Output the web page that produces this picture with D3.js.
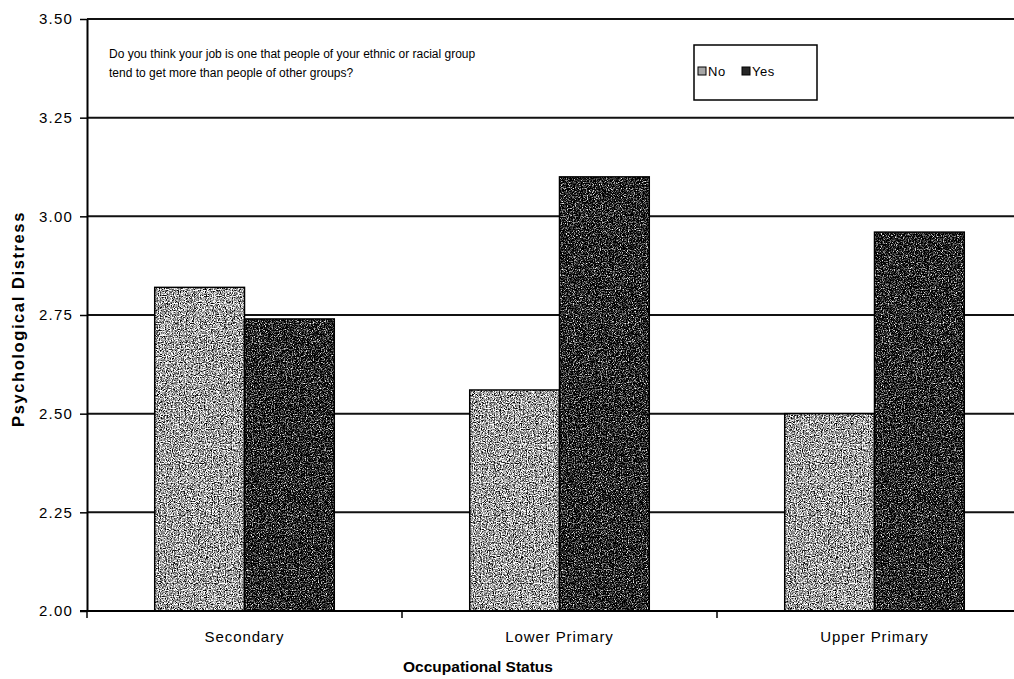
<!DOCTYPE html>
<html>
<head>
<meta charset="utf-8">
<script src="https://cdn.jsdelivr.net/npm/d3@7"></script>
<style>
  body { margin: 0; background: #fff; }
  svg { display: block; font-family: "Liberation Sans", Arial, sans-serif; }
</style>
</head>
<body>
<div id="chart"></div>
<script>
// ==== Data ====
const categories = ["Secondary", "Lower Primary", "Upper Primary"];
const seriesNames = ["No", "Yes"];
const noValues = [2.82, 2.56, 2.50];
const yesValues = [2.74, 3.10, 2.96];
const yTicks = [2.00, 2.25, 2.50, 2.75, 3.00, 3.25, 3.50];
const questionLines = [
  "Do you think your job is one that people of your ethnic or racial group",
  "tend to get more than people of other groups?"
];

const W = 1014, H = 679;
const margin = { top: 19, left: 87, bottom: 68 };
const plotRight = 1032; // plot area runs past the picture edge

const svg = d3.select("#chart").append("svg")
  .attr("width", W).attr("height", H);

// ==== speckle textures ====
const defs = svg.append("defs");
function speckle(id, seed, slope, intercept) {
  const f = defs.append("filter").attr("id", id)
    .attr("x", 0).attr("y", 0).attr("width", 1).attr("height", 1)
    .attr("color-interpolation-filters", "sRGB");
  f.append("feTurbulence").attr("type", "fractalNoise")
    .attr("baseFrequency", 0.85).attr("numOctaves", 2).attr("seed", seed).attr("result", "n");
  f.append("feColorMatrix").attr("in", "n").attr("type", "matrix")
    .attr("values", "0.33 0.33 0.33 0 0  0.33 0.33 0.33 0 0  0.33 0.33 0.33 0 0  0 0 0 0 1")
    .attr("result", "g");
  const ct = f.append("feComponentTransfer").attr("in", "g").attr("result", "t");
  ["feFuncR", "feFuncG", "feFuncB"].forEach(k =>
    ct.append(k).attr("type", "linear").attr("slope", slope).attr("intercept", intercept));
  f.append("feComposite").attr("in", "t").attr("in2", "SourceGraphic").attr("operator", "in");
}
speckle("tex-no", 3, 5, -1.85);
speckle("tex-yes", 7, 5, -2.35);

// ==== Scales ====
const x0 = d3.scaleBand().domain(categories).range([margin.left, plotRight])
  .paddingInner(0.43).paddingOuter(0.215);
const x1 = d3.scaleBand().domain(seriesNames).range([0, x0.bandwidth()]);
const y = d3.scaleLinear().domain([2, 3.5]).range([H - margin.bottom, margin.top]);
const color = d3.scaleOrdinal().domain(seriesNames).range(["#a6a6a6", "#262626"]);
const tex = { No: "url(#tex-no)", Yes: "url(#tex-yes)" };

// ==== Gridlines ====
svg.append("g")
  .selectAll("line").data(yTicks.slice(1)).join("line")
  .attr("x1", margin.left).attr("x2", W)
  .attr("y1", d => y(d)).attr("y2", d => y(d))
  .attr("stroke", "#111").attr("stroke-width", 2);

// ==== Bars ====
const rows = categories.map((c, i) => ({ cat: c, No: noValues[i], Yes: yesValues[i] }));
const groups = svg.append("g").selectAll("g").data(rows).join("g")
  .attr("transform", d => `translate(${x0(d.cat)},0)`);
groups.selectAll("rect.fill")
  .data(d => seriesNames.map(s => ({ s, v: d[s] })))
  .join("rect").attr("class", "fill")
  .attr("x", d => x1(d.s))
  .attr("y", d => y(d.v))
  .attr("width", x1.bandwidth())
  .attr("height", d => y(2) - y(d.v))
  .attr("fill", d => color(d.s))
  .attr("filter", d => tex[d.s]);
groups.selectAll("rect.outline")
  .data(d => seriesNames.map(s => ({ s, v: d[s] })))
  .join("rect").attr("class", "outline")
  .attr("x", d => x1(d.s))
  .attr("y", d => y(d.v))
  .attr("width", x1.bandwidth())
  .attr("height", d => y(2) - y(d.v))
  .attr("fill", "none").attr("stroke", "#000").attr("stroke-width", 1.5);

// ==== Axes ====
const yAxis = svg.append("g")
  .attr("transform", `translate(${margin.left},0)`)
  .call(d3.axisLeft(y).tickValues(yTicks).tickFormat(d3.format(".2f")).tickSize(7).tickSizeOuter(0));
yAxis.select(".domain").attr("stroke", "#000").attr("stroke-width", 2);
yAxis.selectAll(".tick line").attr("stroke", "#000").attr("stroke-width", 1.5);
yAxis.selectAll("text").attr("x", -14).attr("font-size", 15).attr("fill", "#000")
  .attr("letter-spacing", 1.2)
  .attr("font-family", "'Liberation Sans', Arial, sans-serif");

const xAxisG = svg.append("g").attr("transform", `translate(0,${y(2)})`);
xAxisG.append("line").attr("x1", margin.left - 7).attr("x2", W)
  .attr("stroke", "#000").attr("stroke-width", 2);
const bounds = [margin.left, margin.left + (plotRight - margin.left) / 3, margin.left + 2 * (plotRight - margin.left) / 3];
xAxisG.selectAll("line.tk").data(bounds).join("line").attr("class", "tk")
  .attr("x1", d => d).attr("x2", d => d).attr("y1", 0).attr("y2", 7)
  .attr("stroke", "#000").attr("stroke-width", 1.5);
xAxisG.selectAll("text").data(categories).join("text")
  .attr("x", d => x0(d) + x0.bandwidth() / 2)
  .attr("y", 31)
  .attr("text-anchor", "middle").attr("font-size", 15).attr("letter-spacing", 0.9)
  .text(d => d);

// ==== Axis titles ====
svg.append("text")
  .attr("transform", `translate(24,${(y(2) + y(3.5)) / 2 + 4}) rotate(-90)`)
  .attr("text-anchor", "middle").attr("font-size", 16.5).attr("font-weight", "bold")
  .attr("letter-spacing", 1.6)
  .text("Psychological Distress");
svg.append("text")
  .attr("x", 478).attr("y", 672)
  .attr("text-anchor", "middle").attr("font-size", 15.5).attr("font-weight", "bold")
  .text("Occupational Status");

// ==== Question text ====
svg.append("g").selectAll("text").data(questionLines).join("text")
  .attr("x", 109).attr("y", (d, i) => 58 + i * 19)
  .attr("font-size", 12).text(d => d);

// ==== Legend ====
const lg = svg.append("g").attr("transform", "translate(694,45)");
lg.append("rect").attr("width", 123).attr("height", 55)
  .attr("fill", "#fff").attr("stroke", "#000").attr("stroke-width", 1.5);
const li = lg.selectAll("g.it").data(seriesNames).join("g").attr("class", "it")
  .attr("transform", (d, i) => `translate(${4 + i * 44},22)`);
li.append("rect").attr("width", 8).attr("height", 8)
  .attr("fill", d => color(d)).attr("stroke", "#000").attr("stroke-width", 1);
li.append("text").attr("x", 10).attr("y", 9).attr("font-size", 13).attr("letter-spacing", 0.5)
  .text(d => d);
</script>
</body>
</html>
